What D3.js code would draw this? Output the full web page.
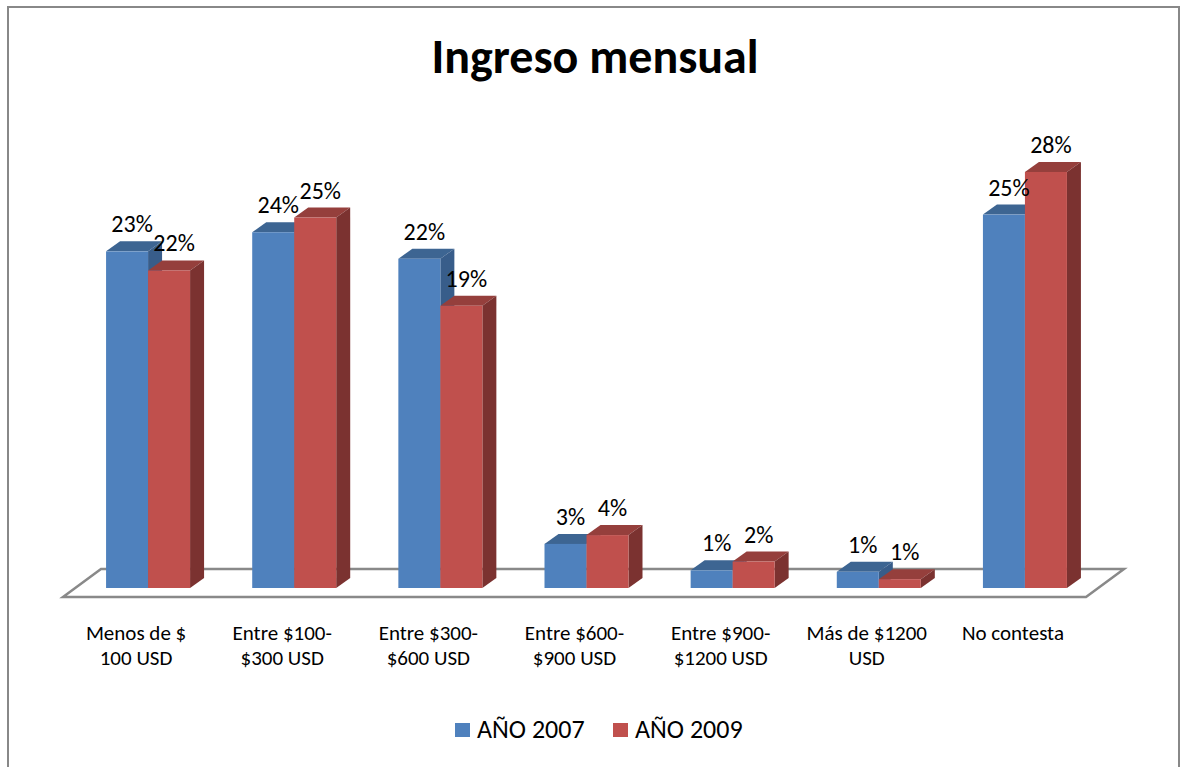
<!DOCTYPE html>
<html>
<head>
<meta charset="utf-8">
<script src="https://cdn.jsdelivr.net/npm/d3@7"></script>
<style>
  body { margin: 0; background: #fff; }
  svg text { font-family: Calibri, Carlito, Lato, sans-serif; fill: #000; }
</style>
</head>
<body>
<div id="chart"></div>
<script>
// Data
var categories = ['Menos de $ 100 USD', 'Entre $100-$300 USD', 'Entre $300-$600 USD',
  'Entre $600-$900 USD', 'Entre $900-$1200 USD', 'Más de $1200 USD', 'No contesta'];
var categoryLines = [['Menos de $', '100 USD'], ['Entre $100-', '$300 USD'], ['Entre $300-', '$600 USD'],
  ['Entre $600-', '$900 USD'], ['Entre $900-', '$1200 USD'], ['Más de $1200', 'USD'], ['No contesta']];
var seriesNames = ['AÑO 2007', 'AÑO 2009'];
var values2007 = [22.9, 24.2, 22.4, 3.0, 1.2, 1.1, 25.4];
var values2009 = [21.6, 25.2, 19.2, 3.6, 1.8, 0.6, 28.3];
var labels2007 = ['23%', '24%', '22%', '3%', '1%', '1%', '25%'];
var labels2009 = ['22%', '25%', '19%', '4%', '2%', '1%', '28%'];

var colors = [
  { front: '#4f81bd', top: '#3d6592', side: '#385d8a' },
  { front: '#c0504d', top: '#953f3c', side: '#7b3230' }
];

var W = 1181, H = 767;
var svg = d3.select('#chart').append('svg')
  .attr('width', W)
  .attr('height', H);

// outer frame
svg.append('rect')
  .attr('x', 8).attr('y', 7)
  .attr('width', 1171).attr('height', 780)
  .attr('fill', '#fff')
  .attr('stroke', '#888')
  .attr('stroke-width', 2);

// title
svg.append('text')
  .attr('x', 595).attr('y', 73)
  .attr('text-anchor', 'middle')
  .style('font-size', '48px')
  .style('font-weight', 'bold')
  .text('Ingreso mensual');

// floor geometry (front edge + depth)
var floorFront = 597, floorLeft = 63, floorRight = 1086;
var floorDepth = { dx: 38, dy: -28 };
var baseY = 588;             // bars stand part way into the floor
var baseShift = 12;          // x shift matching that depth
var barDepth = { dx: 14, dy: -10 };

var x = d3.scaleBand()
  .domain(categories)
  .range([floorLeft, floorRight]);

var xInner = d3.scaleBand()
  .domain(seriesNames)
  .range([-42, 42]);

var y = d3.scaleLinear()
  .domain([0, 30])
  .range([baseY, baseY - 30 * 14.7]);

// floor
var floorPts = [
  [floorLeft, floorFront],
  [floorLeft + floorDepth.dx, floorFront + floorDepth.dy],
  [floorRight + floorDepth.dx, floorFront + floorDepth.dy],
  [floorRight, floorFront]
];
svg.append('path')
  .attr('d', d3.line()(floorPts) + 'Z')
  .attr('fill', '#fff')
  .attr('stroke', '#898989')
  .attr('stroke-width', 2.5);

// bars
var series = [values2007, values2009];
var seriesLabels = [labels2007, labels2009];
var g = svg.append('g');

categories.forEach(function(c, ci) {
  series.forEach(function(vals, si) {
    var x0 = x(c) + x.bandwidth() / 2 + baseShift + xInner(seriesNames[si]);
    var w = xInner.bandwidth();
    var top = y(vals[ci]);
    var col = colors[si];
    var d = barDepth;
    g.append('path')
      .attr('d', d3.line()([[x0, top], [x0 + d.dx, top + d.dy], [x0 + w + d.dx, top + d.dy], [x0 + w, top]]) + 'Z')
      .attr('fill', col.top);
    g.append('path')
      .attr('d', d3.line()([[x0 + w, top], [x0 + w + d.dx, top + d.dy], [x0 + w + d.dx, baseY + d.dy], [x0 + w, baseY]]) + 'Z')
      .attr('fill', col.side);
    g.append('rect')
      .attr('x', x0).attr('y', top)
      .attr('width', w).attr('height', baseY - top)
      .attr('fill', col.front);
  });
});

// value labels
categories.forEach(function(c, ci) {
  series.forEach(function(vals, si) {
    var x0 = x(c) + x.bandwidth() / 2 + baseShift + xInner(seriesNames[si]);
    svg.append('text')
      .attr('x', x0 + xInner.bandwidth() / 2 + 5)
      .attr('y', y(vals[ci]) - 19)
      .attr('text-anchor', 'middle')
      .style('font-size', '24px')
      .text(seriesLabels[si][ci]);
  });
});

// category labels
categories.forEach(function(c, ci) {
  var t = svg.append('text')
    .attr('x', x(c) + x.bandwidth() / 2)
    .attr('y', 640)
    .attr('text-anchor', 'middle')
    .style('font-size', '21px');
  categoryLines[ci].forEach(function(line, li) {
    t.append('tspan')
      .attr('x', x(c) + x.bandwidth() / 2)
      .attr('dy', li === 0 ? 0 : 25)
      .text(line);
  });
});

// legend
var legend = svg.append('g');
var legendX = [455, 613];
seriesNames.forEach(function(s, i) {
  legend.append('rect')
    .attr('x', legendX[i]).attr('y', 723)
    .attr('width', 15).attr('height', 14)
    .attr('fill', colors[i].front);
  legend.append('text')
    .attr('x', legendX[i] + 22).attr('y', 738)
    .style('font-size', '26px')
    .text(s);
});
</script>
</body>
</html>
